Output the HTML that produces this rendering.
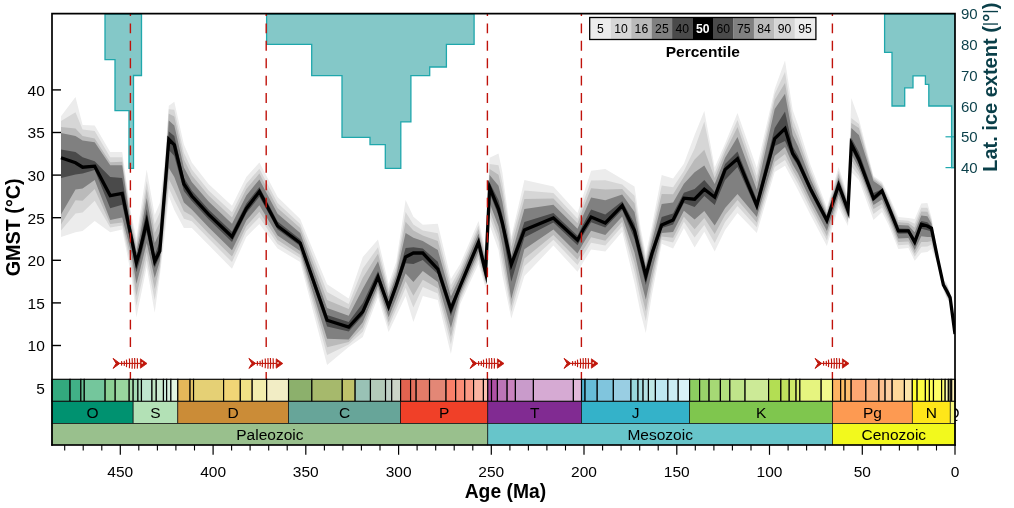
<!DOCTYPE html><html><head><meta charset="utf-8"><title>PhanDA GMST</title><style>html,body{margin:0;padding:0;background:#fff}svg{display:block}text{font-family:"Liberation Sans", sans-serif}</style></head><body>
<svg width="1014" height="508" viewBox="0 0 1014 508">
<rect width="1014" height="508" fill="#fff"/>
<defs><clipPath id="pa"><rect x="52" y="14" width="903" height="431"/></clipPath></defs>
<g clip-path="url(#pa)">
<polygon points="105.0,14.0 105.0,59.6 115.0,59.6 115.0,110.6 129.0,110.6 129.0,168.4 133.5,168.4 133.5,75.5 141.5,75.5 141.5,14.0" fill="#84c8c8" stroke="#1fa7ac" stroke-width="1.3" stroke-linejoin="miter"/>
<polygon points="266.6,14.0 266.6,44.4 311.7,44.4 311.7,75.7 342.0,75.7 342.0,137.3 370.0,137.3 370.0,144.6 385.3,144.6 385.3,168.3 400.8,168.3 400.8,121.9 410.9,121.9 410.9,75.7 429.7,75.7 429.7,67.0 446.4,67.0 446.4,44.4 474.1,44.4 474.1,14.0" fill="#84c8c8" stroke="#1fa7ac" stroke-width="1.3" stroke-linejoin="miter"/>
<polygon points="884.6,14.0 884.6,52.3 892.0,52.3 892.0,106.0 904.7,106.0 904.7,87.8 913.0,87.8 913.0,75.9 925.4,75.9 925.4,84.4 928.8,84.4 928.8,106.0 951.6,106.0 951.6,167.7 955.0,167.7 955.0,14.0" fill="#84c8c8" stroke="#1fa7ac" stroke-width="1.3" stroke-linejoin="miter"/>
</g>
<line x1="945.5" x2="955" y1="167.6" y2="167.6" stroke="#1fa9ae" stroke-width="1.2"/>
<line x1="945.5" x2="955" y1="136.8" y2="136.8" stroke="#1fa9ae" stroke-width="1.2"/>
<g clip-path="url(#pa)">
<polygon points="61.0,116.2 75.5,97.0 82.6,125.1 94.7,125.6 110.2,151.9 122.2,151.9 131.2,214.0 136.4,238.0 139.7,216.0 146.7,169.4 154.7,215.0 159.8,203.0 165.1,158.0 168.8,105.8 174.3,101.8 183.9,144.5 191.8,162.5 208.6,184.0 232.0,205.8 246.3,177.0 259.4,162.6 277.6,197.0 300.2,219.0 327.1,284.3 348.7,298.5 362.8,257.0 378.0,239.4 388.6,284.0 396.2,262.0 405.6,200.0 413.4,216.8 422.8,224.7 437.8,223.7 450.9,279.0 460.2,264.0 469.2,243.0 478.5,221.0 485.6,250.0 489.6,157.7 498.5,153.6 502.3,172.0 511.3,236.8 524.4,180.0 553.4,186.5 577.5,213.0 583.3,195.0 591.1,170.7 605.3,169.0 622.2,179.0 634.5,186.4 640.6,228.0 645.8,254.0 651.9,226.0 661.7,175.0 673.1,178.5 683.9,163.7 694.6,135.0 704.3,111.1 714.7,167.6 725.1,143.5 737.5,113.0 756.8,168.0 774.7,89.0 785.0,60.6 792.7,110.0 798.0,125.0 810.5,165.0 826.9,207.5 838.6,167.0 842.9,180.0 848.0,197.0 851.3,97.9 858.9,119.0 873.5,176.0 882.0,182.0 888.6,195.0 898.3,217.0 908.4,218.0 914.7,219.0 921.3,203.5 927.4,203.0 931.4,217.0 937.5,252.0 943.4,280.0 946.8,283.0 950.1,292.0 955.0,332.0 955.0,336.0 950.1,303.0 946.8,299.0 943.4,290.0 937.5,264.0 931.4,249.0 927.4,252.0 921.3,252.8 914.7,260.7 908.4,248.0 898.3,249.0 888.6,225.0 882.0,212.0 873.5,220.0 858.9,180.0 851.3,172.0 848.0,226.0 842.9,216.0 838.6,207.0 826.9,246.0 810.5,215.0 798.0,190.0 792.7,180.0 785.0,165.7 774.7,172.0 756.8,233.0 737.5,213.0 725.1,230.0 714.7,251.6 704.3,231.8 694.6,247.6 683.9,228.0 673.1,248.6 661.7,243.7 651.9,295.0 645.8,333.0 640.6,313.0 634.5,283.0 622.2,231.8 605.3,251.5 591.1,249.6 583.3,262.0 577.5,271.7 553.4,245.6 524.4,276.0 511.3,318.6 502.3,275.0 498.5,250.0 489.6,225.0 485.6,288.0 478.5,264.0 469.2,284.0 460.2,304.0 450.9,354.0 437.8,300.0 422.8,296.0 413.4,322.0 405.6,296.0 396.2,316.0 388.6,332.0 378.0,297.0 362.8,337.0 348.7,347.0 327.1,365.0 300.2,262.0 277.6,248.6 259.4,224.0 246.3,237.0 232.0,268.8 208.6,245.0 191.8,228.0 183.9,228.0 174.3,210.0 168.8,196.0 165.1,232.0 159.8,276.0 154.7,312.7 146.7,267.0 139.7,301.0 136.4,317.6 131.2,275.0 122.2,229.4 110.2,232.3 94.7,221.0 82.6,230.9 75.5,232.3 61.0,237.0" fill="#ececec"/>
<polygon points="61.0,121.1 75.5,112.3 82.6,129.5 94.7,131.0 110.2,157.3 122.2,157.3 131.2,218.6 136.4,243.0 139.7,223.1 146.7,181.0 154.7,224.0 159.8,212.6 165.1,163.6 168.8,109.2 174.3,109.7 183.9,152.8 191.8,169.5 208.6,190.4 232.0,212.3 246.3,183.7 259.4,168.7 277.6,203.1 300.2,224.0 327.1,292.0 348.7,304.0 362.8,268.5 378.0,247.3 388.6,288.7 396.2,266.9 405.6,212.0 413.4,224.4 422.8,230.6 437.8,233.2 450.9,285.3 460.2,268.6 469.2,247.5 478.5,225.5 485.6,254.7 489.6,163.9 498.5,165.2 502.3,182.6 511.3,240.3 524.4,190.5 553.4,193.1 577.5,218.7 583.3,202.2 591.1,180.4 605.3,180.3 622.2,184.6 634.5,195.7 640.6,233.7 645.8,258.6 651.9,231.8 661.7,185.5 673.1,187.2 683.9,170.9 694.6,148.5 704.3,121.5 714.7,173.0 725.1,147.5 737.5,120.0 756.8,175.9 774.7,94.0 785.0,72.0 792.7,119.1 798.0,132.7 810.5,170.0 826.9,210.2 838.6,170.8 842.9,183.4 848.0,199.8 851.3,118.0 858.9,124.0 873.5,177.5 882.0,183.8 888.6,197.5 898.3,219.9 908.4,220.7 914.7,223.8 921.3,207.8 927.4,207.8 931.4,219.4 937.5,253.3 943.4,281.1 946.8,284.7 950.1,293.1 955.0,332.4 955.0,335.6 950.1,301.8 946.8,297.3 943.4,288.9 937.5,262.7 931.4,244.6 927.4,246.5 921.3,246.8 914.7,256.8 908.4,244.4 898.3,245.2 888.6,221.2 882.0,207.5 873.5,214.0 858.9,176.0 851.3,166.0 848.0,222.7 842.9,211.9 838.6,202.4 826.9,240.6 810.5,209.5 798.0,184.0 792.7,174.4 785.0,160.0 774.7,167.0 756.8,227.2 737.5,206.0 725.1,222.0 714.7,243.0 704.3,225.0 694.6,237.4 683.9,221.7 673.1,242.6 661.7,239.8 651.9,286.3 645.8,321.0 640.6,300.8 634.5,272.0 622.2,226.3 605.3,245.5 591.1,242.8 583.3,255.2 577.5,265.1 553.4,239.8 524.4,266.3 511.3,312.0 502.3,264.0 498.5,241.4 489.6,217.1 485.6,284.7 478.5,259.4 469.2,279.9 460.2,300.2 450.9,344.6 437.8,293.5 422.8,287.0 413.4,307.5 405.6,287.8 396.2,309.6 388.6,326.7 378.0,292.8 362.8,331.7 348.7,344.5 327.1,355.0 300.2,258.0 277.6,243.9 259.4,217.2 246.3,231.1 232.0,262.1 208.6,238.6 191.8,221.3 183.9,218.8 174.3,200.0 168.8,188.0 165.1,222.8 159.8,271.0 154.7,300.0 146.7,260.0 139.7,291.1 136.4,305.8 131.2,267.4 122.2,225.4 110.2,227.4 94.7,200.8 82.6,212.6 75.5,213.6 61.0,230.4" fill="#d6d6d6"/>
<polygon points="61.0,127.0 75.5,128.5 82.6,135.9 94.7,138.4 110.2,162.3 122.2,161.8 131.2,223.3 136.4,247.0 139.7,230.2 146.7,189.0 154.7,233.0 159.8,222.2 165.1,169.2 168.8,113.7 174.3,116.6 183.9,159.5 191.8,175.2 208.6,195.6 232.0,217.6 246.3,189.0 259.4,173.6 277.6,208.0 300.2,228.1 327.1,300.0 348.7,309.0 362.8,277.7 378.0,253.7 388.6,292.6 396.2,270.9 405.6,221.7 413.4,230.6 422.8,235.5 437.8,240.9 450.9,290.4 460.2,272.4 469.2,251.2 478.5,229.1 485.6,258.6 489.6,168.9 498.5,174.7 502.3,191.3 511.3,247.0 524.4,199.0 553.4,198.5 577.5,223.3 583.3,208.1 591.1,188.3 605.3,189.5 622.2,189.1 634.5,203.2 640.6,238.3 645.8,262.3 651.9,236.4 661.7,194.0 673.1,194.3 683.9,176.8 694.6,159.4 704.3,149.8 714.7,178.0 725.1,152.0 737.5,127.0 756.8,182.2 774.7,100.0 785.0,83.0 792.7,126.5 798.0,138.9 810.5,174.1 826.9,212.4 838.6,173.8 842.9,186.2 848.0,202.1 851.3,123.0 858.9,128.0 873.5,179.0 882.0,185.3 888.6,199.5 898.3,222.2 908.4,222.9 914.7,227.7 921.3,211.4 927.4,211.7 931.4,221.3 937.5,254.3 943.4,281.9 946.8,286.0 950.1,294.1 955.0,332.8 955.0,335.2 950.1,300.9 946.8,296.0 943.4,288.1 937.5,261.7 931.4,241.1 927.4,242.1 921.3,241.9 914.7,253.6 908.4,241.5 898.3,242.1 888.6,218.1 882.0,203.9 873.5,209.0 858.9,172.0 851.3,160.0 848.0,220.1 842.9,208.6 838.6,198.6 826.9,236.2 810.5,205.1 798.0,179.2 792.7,169.9 785.0,154.0 774.7,162.0 756.8,222.6 737.5,200.0 725.1,215.0 714.7,234.0 704.3,218.0 694.6,229.2 683.9,216.7 673.1,237.7 661.7,236.6 651.9,279.2 645.8,311.3 640.6,291.0 634.5,263.1 622.2,221.8 605.3,240.7 591.1,237.2 583.3,249.7 577.5,259.7 553.4,235.1 524.4,258.5 511.3,306.0 502.3,255.1 498.5,234.4 489.6,210.7 485.6,282.1 478.5,255.8 469.2,276.6 460.2,297.2 450.9,336.9 437.8,288.2 422.8,279.7 413.4,295.8 405.6,281.2 396.2,304.4 388.6,322.3 378.0,289.4 362.8,327.3 348.7,342.0 327.1,347.3 300.2,254.8 277.6,240.0 259.4,211.7 246.3,226.2 232.0,256.6 208.6,233.4 191.8,215.8 183.9,211.3 174.3,190.0 168.8,179.0 165.1,213.6 159.8,266.0 154.7,289.0 146.7,252.0 139.7,281.2 136.4,296.0 131.2,259.9 122.2,222.5 110.2,224.0 94.7,189.0 82.6,200.8 75.5,200.3 61.0,224.4" fill="#bababa"/>
<polygon points="61.0,133.0 75.5,135.9 82.6,140.4 94.7,142.3 110.2,165.2 122.2,165.2 131.2,227.9 136.4,252.0 139.7,237.2 146.7,198.0 154.7,243.0 159.8,231.8 165.1,174.8 168.8,120.6 174.3,125.5 183.9,167.4 191.8,181.9 208.6,201.6 232.0,223.8 246.3,195.4 259.4,179.4 277.6,213.8 300.2,232.9 327.1,308.0 348.7,315.8 362.8,288.7 378.0,261.2 388.6,297.1 396.2,275.6 405.6,233.1 413.4,237.8 422.8,241.1 437.8,250.0 450.9,296.4 460.2,276.8 469.2,255.5 478.5,233.4 485.6,263.1 489.6,174.9 498.5,185.7 502.3,201.4 511.3,255.5 524.4,209.0 553.4,204.8 577.5,228.8 583.3,215.0 591.1,197.6 605.3,200.3 622.2,194.4 634.5,212.0 640.6,243.7 645.8,266.6 651.9,241.9 661.7,204.0 673.1,202.6 683.9,183.7 694.6,172.2 704.3,165.6 714.7,184.0 725.1,157.7 737.5,137.0 756.8,189.8 774.7,109.0 785.0,93.7 792.7,135.2 798.0,146.2 810.5,178.9 826.9,214.9 838.6,177.4 842.9,189.5 848.0,204.8 851.3,127.9 858.9,135.0 873.5,181.0 882.0,187.0 888.6,201.9 898.3,225.0 908.4,225.4 914.7,232.3 921.3,215.5 927.4,216.3 931.4,223.5 937.5,255.5 943.4,282.9 946.8,287.6 950.1,295.1 955.0,333.2 955.0,334.8 950.1,299.8 946.8,294.4 943.4,287.1 937.5,260.5 931.4,236.9 927.4,236.9 921.3,236.2 914.7,249.9 908.4,238.0 898.3,238.4 888.6,214.5 882.0,199.6 873.5,205.0 858.9,168.0 851.3,154.0 848.0,217.0 842.9,204.6 838.6,194.2 826.9,231.1 810.5,199.9 798.0,173.5 792.7,164.6 785.0,147.0 774.7,156.0 756.8,217.1 737.5,194.0 725.1,208.0 714.7,225.4 704.3,211.0 694.6,219.5 683.9,210.7 673.1,232.0 661.7,232.9 651.9,270.9 645.8,299.8 640.6,279.4 634.5,252.6 622.2,216.5 605.3,235.0 591.1,230.7 583.3,243.2 577.5,253.4 553.4,229.6 524.4,249.3 511.3,299.0 502.3,244.7 498.5,226.2 489.6,203.1 485.6,279.0 478.5,251.4 469.2,272.7 460.2,293.6 450.9,327.9 437.8,282.0 422.8,271.1 413.4,282.0 405.6,273.4 396.2,298.3 388.6,317.3 378.0,285.4 362.8,322.3 348.7,339.4 327.1,338.7 300.2,251.0 277.6,235.5 259.4,205.2 246.3,220.6 232.0,250.2 208.6,227.3 191.8,209.4 183.9,202.5 174.3,177.0 168.8,168.0 165.1,204.4 159.8,261.0 154.7,278.0 146.7,243.0 139.7,271.2 136.4,284.0 131.2,252.3 122.2,217.5 110.2,220.0 94.7,180.0 82.6,188.5 75.5,189.4 61.0,214.6" fill="#808080"/>
<polygon points="61.0,149.4 75.5,151.9 82.6,157.3 94.7,161.3 110.2,177.0 122.2,178.0 131.2,232.6 136.4,258.0 139.7,244.3 146.7,209.0 154.7,255.0 159.8,241.4 165.1,180.4 168.8,131.4 174.3,136.0 183.9,177.7 191.8,190.6 208.6,209.5 232.0,231.8 246.3,203.6 259.4,187.0 277.6,221.4 300.2,239.2 327.1,315.0 348.7,322.0 362.8,302.9 378.0,271.0 388.6,303.0 396.2,281.7 405.6,247.9 413.4,247.2 422.8,248.5 437.8,261.8 450.9,304.2 460.2,282.5 469.2,261.1 478.5,238.9 485.6,268.9 489.6,182.6 498.5,200.1 502.3,214.6 511.3,260.0 524.4,222.0 553.4,213.0 577.5,235.8 583.3,224.0 591.1,209.6 605.3,214.4 622.2,201.3 634.5,223.4 640.6,250.7 645.8,272.3 651.9,249.1 661.7,217.0 673.1,213.4 683.9,192.7 694.6,188.9 704.3,180.0 714.7,192.0 725.1,164.0 737.5,151.4 756.8,199.5 774.7,128.0 785.0,111.4 792.7,146.5 798.0,155.7 810.5,185.2 826.9,218.3 838.6,182.1 842.9,193.8 848.0,208.3 851.3,138.0 858.9,152.0 873.5,193.0 882.0,189.3 888.6,205.0 898.3,228.6 908.4,228.8 914.7,238.3 921.3,220.9 927.4,222.3 931.4,226.4 937.5,257.0 943.4,284.2 946.8,289.7 950.1,296.5 955.0,333.7 955.0,334.3 950.1,298.3 946.8,292.3 943.4,285.8 937.5,259.0 931.4,231.5 927.4,230.2 921.3,228.8 914.7,245.0 908.4,233.6 898.3,233.7 888.6,209.8 882.0,194.1 873.5,201.0 858.9,164.0 851.3,149.0 848.0,213.0 842.9,199.5 838.6,188.5 826.9,224.4 810.5,193.2 798.0,166.1 792.7,157.7 785.0,141.0 774.7,146.0 756.8,209.9 737.5,167.0 725.1,180.0 714.7,205.0 704.3,196.0 694.6,206.9 683.9,203.0 673.1,224.6 661.7,228.0 651.9,260.1 645.8,285.0 640.6,264.3 634.5,238.9 622.2,209.7 605.3,227.6 591.1,222.2 583.3,234.7 577.5,245.2 553.4,222.4 524.4,237.4 511.3,281.7 502.3,231.1 498.5,215.6 489.6,193.3 485.6,275.0 478.5,245.8 469.2,267.6 460.2,288.9 450.9,316.2 437.8,274.0 422.8,259.9 413.4,264.0 405.6,263.2 396.2,290.4 388.6,310.7 378.0,280.2 362.8,315.7 348.7,331.6 327.1,326.5 300.2,246.0 277.6,229.6 259.4,196.8 246.3,213.2 232.0,241.9 208.6,219.3 191.8,201.1 183.9,191.0 174.3,156.0 168.8,150.0 165.1,195.2 159.8,256.0 154.7,268.0 146.7,232.0 139.7,261.3 136.4,272.3 131.2,244.8 122.2,204.7 110.2,208.2 94.7,170.0 82.6,173.6 75.5,174.6 61.0,178.0" fill="#4a4a4a"/>
<polyline points="61.0,157.8 75.5,162.8 82.6,167.2 94.7,166.2 110.2,195.6 122.2,193.4 131.2,237.2 136.4,262.5 139.7,251.4 146.7,222.0 154.7,261.5 159.8,251.0 165.1,186.0 168.8,139.3 174.3,144.8 183.9,184.0 191.8,196.0 208.6,214.4 232.0,236.8 246.3,208.7 259.4,191.6 277.6,226.0 300.2,243.0 327.1,320.2 348.7,327.0 362.8,311.6 378.0,277.0 388.6,306.6 396.2,285.5 405.6,257.0 413.4,253.0 422.8,253.0 437.8,269.0 450.9,309.0 460.2,286.0 469.2,264.5 478.5,242.3 485.6,272.5 489.6,187.3 498.5,209.0 502.3,222.7 511.3,264.5 524.4,230.0 553.4,218.0 577.5,240.2 583.3,229.5 591.1,217.0 605.3,223.0 622.2,205.5 634.5,230.5 640.6,255.0 645.8,275.8 651.9,253.5 661.7,225.0 673.1,220.0 683.9,198.2 694.6,199.2 704.3,189.3 714.7,197.2 725.1,169.6 737.5,158.7 756.8,205.5 774.7,138.6 785.0,128.5 792.7,153.5 798.0,161.5 810.5,189.0 826.9,220.3 838.6,185.0 842.9,196.4 848.0,210.5 851.3,144.0 858.9,159.5 873.5,198.5 882.0,190.7 888.6,206.9 898.3,230.8 908.4,230.8 914.7,242.0 921.3,224.2 927.4,226.0 931.4,228.2 937.5,258.0 943.4,285.0 946.8,291.0 950.1,297.4 955.0,334.0" fill="none" stroke="#000" stroke-width="3.3" stroke-linejoin="miter" stroke-miterlimit="10"/>
</g>
<line x1="130.4" x2="130.4" y1="14" y2="16" stroke="#c0120a" stroke-width="1.4"/>
<line x1="130.4" x2="130.4" y1="23.4" y2="379" stroke="#c0120a" stroke-width="1.4" stroke-dasharray="9.9 7.53"/>
<line x1="266.2" x2="266.2" y1="14" y2="16" stroke="#c0120a" stroke-width="1.4"/>
<line x1="266.2" x2="266.2" y1="23.4" y2="379" stroke="#c0120a" stroke-width="1.4" stroke-dasharray="9.9 7.53"/>
<line x1="487.4" x2="487.4" y1="14" y2="16" stroke="#c0120a" stroke-width="1.4"/>
<line x1="487.4" x2="487.4" y1="23.4" y2="379" stroke="#c0120a" stroke-width="1.4" stroke-dasharray="9.9 7.53"/>
<line x1="581.4" x2="581.4" y1="14" y2="16" stroke="#c0120a" stroke-width="1.4"/>
<line x1="581.4" x2="581.4" y1="23.4" y2="379" stroke="#c0120a" stroke-width="1.4" stroke-dasharray="9.9 7.53"/>
<line x1="832.4" x2="832.4" y1="14" y2="16" stroke="#c0120a" stroke-width="1.4"/>
<line x1="832.4" x2="832.4" y1="23.4" y2="379" stroke="#c0120a" stroke-width="1.4" stroke-dasharray="9.9 7.53"/>
<g transform="translate(130.0,363.4)"><rect x="-19" y="-9.6" width="38" height="17.4" fill="#fff"/><path d="M-16.9,-5.0 L-10.2,0 L-16.9,5.0 L-13.9,0 Z" fill="#c0170c" stroke="#c0170c" stroke-width="1" stroke-linejoin="round"/><line x1="-10.5" x2="10.6" y1="0" y2="0" stroke="#c0170c" stroke-width="1.1"/><path d="M-8.50,-2.2 Q-8.00,0 -8.50,2.2" fill="none" stroke="#c0170c" stroke-width="1.15"/><path d="M-5.80,-2.5 Q-5.30,0 -5.80,2.5" fill="none" stroke="#c0170c" stroke-width="1.15"/><path d="M-3.55,-3.8 Q-3.05,0 -3.55,3.8" fill="none" stroke="#c0170c" stroke-width="1.15"/><path d="M-0.60,-4.9 Q-0.10,0 -0.60,4.9" fill="none" stroke="#c0170c" stroke-width="1.15"/><path d="M2.10,-5.3 Q2.60,0 2.10,5.3" fill="none" stroke="#c0170c" stroke-width="1.15"/><path d="M4.60,-5.4 Q5.10,0 4.60,5.4" fill="none" stroke="#c0170c" stroke-width="1.15"/><path d="M7.30,-5.2 Q7.80,0 7.30,5.2" fill="none" stroke="#c0170c" stroke-width="1.15"/><path d="M10.4,-4.6 L17.0,0.1 L10.4,4.8 Z" fill="#c0170c" stroke="#c0170c" stroke-width="0.8" stroke-linejoin="round"/><circle cx="12.2" cy="-0.5" r="0.85" fill="#fbe3d0"/></g>
<g transform="translate(265.8,363.4)"><rect x="-19" y="-9.6" width="38" height="17.4" fill="#fff"/><path d="M-16.9,-5.0 L-10.2,0 L-16.9,5.0 L-13.9,0 Z" fill="#c0170c" stroke="#c0170c" stroke-width="1" stroke-linejoin="round"/><line x1="-10.5" x2="10.6" y1="0" y2="0" stroke="#c0170c" stroke-width="1.1"/><path d="M-8.50,-2.2 Q-8.00,0 -8.50,2.2" fill="none" stroke="#c0170c" stroke-width="1.15"/><path d="M-5.80,-2.5 Q-5.30,0 -5.80,2.5" fill="none" stroke="#c0170c" stroke-width="1.15"/><path d="M-3.55,-3.8 Q-3.05,0 -3.55,3.8" fill="none" stroke="#c0170c" stroke-width="1.15"/><path d="M-0.60,-4.9 Q-0.10,0 -0.60,4.9" fill="none" stroke="#c0170c" stroke-width="1.15"/><path d="M2.10,-5.3 Q2.60,0 2.10,5.3" fill="none" stroke="#c0170c" stroke-width="1.15"/><path d="M4.60,-5.4 Q5.10,0 4.60,5.4" fill="none" stroke="#c0170c" stroke-width="1.15"/><path d="M7.30,-5.2 Q7.80,0 7.30,5.2" fill="none" stroke="#c0170c" stroke-width="1.15"/><path d="M10.4,-4.6 L17.0,0.1 L10.4,4.8 Z" fill="#c0170c" stroke="#c0170c" stroke-width="0.8" stroke-linejoin="round"/><circle cx="12.2" cy="-0.5" r="0.85" fill="#fbe3d0"/></g>
<g transform="translate(487.0,363.4)"><rect x="-19" y="-9.6" width="38" height="17.4" fill="#fff"/><path d="M-16.9,-5.0 L-10.2,0 L-16.9,5.0 L-13.9,0 Z" fill="#c0170c" stroke="#c0170c" stroke-width="1" stroke-linejoin="round"/><line x1="-10.5" x2="10.6" y1="0" y2="0" stroke="#c0170c" stroke-width="1.1"/><path d="M-8.50,-2.2 Q-8.00,0 -8.50,2.2" fill="none" stroke="#c0170c" stroke-width="1.15"/><path d="M-5.80,-2.5 Q-5.30,0 -5.80,2.5" fill="none" stroke="#c0170c" stroke-width="1.15"/><path d="M-3.55,-3.8 Q-3.05,0 -3.55,3.8" fill="none" stroke="#c0170c" stroke-width="1.15"/><path d="M-0.60,-4.9 Q-0.10,0 -0.60,4.9" fill="none" stroke="#c0170c" stroke-width="1.15"/><path d="M2.10,-5.3 Q2.60,0 2.10,5.3" fill="none" stroke="#c0170c" stroke-width="1.15"/><path d="M4.60,-5.4 Q5.10,0 4.60,5.4" fill="none" stroke="#c0170c" stroke-width="1.15"/><path d="M7.30,-5.2 Q7.80,0 7.30,5.2" fill="none" stroke="#c0170c" stroke-width="1.15"/><path d="M10.4,-4.6 L17.0,0.1 L10.4,4.8 Z" fill="#c0170c" stroke="#c0170c" stroke-width="0.8" stroke-linejoin="round"/><circle cx="12.2" cy="-0.5" r="0.85" fill="#fbe3d0"/></g>
<g transform="translate(581.0,363.4)"><rect x="-19" y="-9.6" width="38" height="17.4" fill="#fff"/><path d="M-16.9,-5.0 L-10.2,0 L-16.9,5.0 L-13.9,0 Z" fill="#c0170c" stroke="#c0170c" stroke-width="1" stroke-linejoin="round"/><line x1="-10.5" x2="10.6" y1="0" y2="0" stroke="#c0170c" stroke-width="1.1"/><path d="M-8.50,-2.2 Q-8.00,0 -8.50,2.2" fill="none" stroke="#c0170c" stroke-width="1.15"/><path d="M-5.80,-2.5 Q-5.30,0 -5.80,2.5" fill="none" stroke="#c0170c" stroke-width="1.15"/><path d="M-3.55,-3.8 Q-3.05,0 -3.55,3.8" fill="none" stroke="#c0170c" stroke-width="1.15"/><path d="M-0.60,-4.9 Q-0.10,0 -0.60,4.9" fill="none" stroke="#c0170c" stroke-width="1.15"/><path d="M2.10,-5.3 Q2.60,0 2.10,5.3" fill="none" stroke="#c0170c" stroke-width="1.15"/><path d="M4.60,-5.4 Q5.10,0 4.60,5.4" fill="none" stroke="#c0170c" stroke-width="1.15"/><path d="M7.30,-5.2 Q7.80,0 7.30,5.2" fill="none" stroke="#c0170c" stroke-width="1.15"/><path d="M10.4,-4.6 L17.0,0.1 L10.4,4.8 Z" fill="#c0170c" stroke="#c0170c" stroke-width="0.8" stroke-linejoin="round"/><circle cx="12.2" cy="-0.5" r="0.85" fill="#fbe3d0"/></g>
<g transform="translate(832.0,363.4)"><rect x="-19" y="-9.6" width="38" height="17.4" fill="#fff"/><path d="M-16.9,-5.0 L-10.2,0 L-16.9,5.0 L-13.9,0 Z" fill="#c0170c" stroke="#c0170c" stroke-width="1" stroke-linejoin="round"/><line x1="-10.5" x2="10.6" y1="0" y2="0" stroke="#c0170c" stroke-width="1.1"/><path d="M-8.50,-2.2 Q-8.00,0 -8.50,2.2" fill="none" stroke="#c0170c" stroke-width="1.15"/><path d="M-5.80,-2.5 Q-5.30,0 -5.80,2.5" fill="none" stroke="#c0170c" stroke-width="1.15"/><path d="M-3.55,-3.8 Q-3.05,0 -3.55,3.8" fill="none" stroke="#c0170c" stroke-width="1.15"/><path d="M-0.60,-4.9 Q-0.10,0 -0.60,4.9" fill="none" stroke="#c0170c" stroke-width="1.15"/><path d="M2.10,-5.3 Q2.60,0 2.10,5.3" fill="none" stroke="#c0170c" stroke-width="1.15"/><path d="M4.60,-5.4 Q5.10,0 4.60,5.4" fill="none" stroke="#c0170c" stroke-width="1.15"/><path d="M7.30,-5.2 Q7.80,0 7.30,5.2" fill="none" stroke="#c0170c" stroke-width="1.15"/><path d="M10.4,-4.6 L17.0,0.1 L10.4,4.8 Z" fill="#c0170c" stroke="#c0170c" stroke-width="0.8" stroke-linejoin="round"/><circle cx="12.2" cy="-0.5" r="0.85" fill="#fbe3d0"/></g>
<text x="953.6" y="418.0" font-size="15.5" text-anchor="middle" fill="#000">Q</text>
<rect x="51.94" y="379.3" width="18.12" height="22" fill="#33A97E" stroke="#000" stroke-width="1.15"/>
<rect x="70.07" y="379.3" width="10.80" height="22" fill="#41B087" stroke="#000" stroke-width="1.15"/>
<rect x="80.86" y="379.3" width="3.41" height="22" fill="#66C092" stroke="#000" stroke-width="1.15"/>
<rect x="84.28" y="379.3" width="20.85" height="22" fill="#74C69C" stroke="#000" stroke-width="1.15"/>
<rect x="105.13" y="379.3" width="10.07" height="22" fill="#8CD094" stroke="#000" stroke-width="1.15"/>
<rect x="115.20" y="379.3" width="13.99" height="22" fill="#99D69F" stroke="#000" stroke-width="1.15"/>
<rect x="129.19" y="379.3" width="3.97" height="22" fill="#A6DBAB" stroke="#000" stroke-width="1.15"/>
<rect x="133.16" y="379.3" width="4.79" height="22" fill="#A6DCB5" stroke="#000" stroke-width="1.15"/>
<rect x="137.94" y="379.3" width="3.52" height="22" fill="#B3E1C2" stroke="#000" stroke-width="1.15"/>
<rect x="141.47" y="379.3" width="10.50" height="22" fill="#BFE6CF" stroke="#000" stroke-width="1.15"/>
<rect x="151.96" y="379.3" width="4.29" height="22" fill="#BFE6C3" stroke="#000" stroke-width="1.15"/>
<rect x="156.25" y="379.3" width="7.20" height="22" fill="#CCEBD1" stroke="#000" stroke-width="1.15"/>
<rect x="163.45" y="379.3" width="3.21" height="22" fill="#CCECDD" stroke="#000" stroke-width="1.15"/>
<rect x="166.66" y="379.3" width="4.23" height="22" fill="#D9F0DF" stroke="#000" stroke-width="1.15"/>
<rect x="170.89" y="379.3" width="6.92" height="22" fill="#E6F5E1" stroke="#000" stroke-width="1.15"/>
<rect x="177.81" y="379.3" width="12.24" height="22" fill="#E5B75A" stroke="#000" stroke-width="1.15"/>
<rect x="190.05" y="379.3" width="3.51" height="22" fill="#E5C468" stroke="#000" stroke-width="1.15"/>
<rect x="193.55" y="379.3" width="30.07" height="22" fill="#E5D075" stroke="#000" stroke-width="1.15"/>
<rect x="223.62" y="379.3" width="16.69" height="22" fill="#F1D576" stroke="#000" stroke-width="1.15"/>
<rect x="240.32" y="379.3" width="11.87" height="22" fill="#F1E185" stroke="#000" stroke-width="1.15"/>
<rect x="252.19" y="379.3" width="14.47" height="22" fill="#F2EDAD" stroke="#000" stroke-width="1.15"/>
<rect x="266.66" y="379.3" width="21.89" height="22" fill="#F2EDC5" stroke="#000" stroke-width="1.15"/>
<rect x="288.55" y="379.3" width="23.32" height="22" fill="#8CB06C" stroke="#000" stroke-width="1.15"/>
<rect x="311.87" y="379.3" width="30.40" height="22" fill="#A6B96C" stroke="#000" stroke-width="1.15"/>
<rect x="342.27" y="379.3" width="12.87" height="22" fill="#BFC26B" stroke="#000" stroke-width="1.15"/>
<rect x="355.14" y="379.3" width="15.30" height="22" fill="#99C2B5" stroke="#000" stroke-width="1.15"/>
<rect x="370.45" y="379.3" width="15.08" height="22" fill="#B3CBB9" stroke="#000" stroke-width="1.15"/>
<rect x="385.53" y="379.3" width="6.20" height="22" fill="#BFD0C5" stroke="#000" stroke-width="1.15"/>
<rect x="391.72" y="379.3" width="8.89" height="22" fill="#CCD4C7" stroke="#000" stroke-width="1.15"/>
<rect x="400.61" y="379.3" width="9.96" height="22" fill="#E36350" stroke="#000" stroke-width="1.15"/>
<rect x="410.57" y="379.3" width="5.58" height="22" fill="#E36F5C" stroke="#000" stroke-width="1.15"/>
<rect x="416.15" y="379.3" width="13.37" height="22" fill="#E37B68" stroke="#000" stroke-width="1.15"/>
<rect x="429.53" y="379.3" width="16.51" height="22" fill="#E38776" stroke="#000" stroke-width="1.15"/>
<rect x="446.04" y="379.3" width="9.65" height="22" fill="#FB8069" stroke="#000" stroke-width="1.15"/>
<rect x="455.68" y="379.3" width="9.09" height="22" fill="#FB8D76" stroke="#000" stroke-width="1.15"/>
<rect x="464.77" y="379.3" width="8.81" height="22" fill="#FB9A85" stroke="#000" stroke-width="1.15"/>
<rect x="473.58" y="379.3" width="9.85" height="22" fill="#FCB4A2" stroke="#000" stroke-width="1.15"/>
<rect x="483.43" y="379.3" width="4.34" height="22" fill="#FCC0B2" stroke="#000" stroke-width="1.15"/>
<rect x="487.78" y="379.3" width="3.75" height="22" fill="#A4469F" stroke="#000" stroke-width="1.15"/>
<rect x="491.52" y="379.3" width="5.90" height="22" fill="#B051A5" stroke="#000" stroke-width="1.15"/>
<rect x="497.42" y="379.3" width="9.72" height="22" fill="#BC75B7" stroke="#000" stroke-width="1.15"/>
<rect x="507.14" y="379.3" width="8.27" height="22" fill="#C983BF" stroke="#000" stroke-width="1.15"/>
<rect x="515.41" y="379.3" width="17.99" height="22" fill="#C99BCB" stroke="#000" stroke-width="1.15"/>
<rect x="533.41" y="379.3" width="39.99" height="22" fill="#D6AAD3" stroke="#000" stroke-width="1.15"/>
<rect x="573.40" y="379.3" width="8.12" height="22" fill="#E3B9DB" stroke="#000" stroke-width="1.15"/>
<rect x="581.53" y="379.3" width="3.52" height="22" fill="#4EB3D3" stroke="#000" stroke-width="1.15"/>
<rect x="585.05" y="379.3" width="12.17" height="22" fill="#67BCD8" stroke="#000" stroke-width="1.15"/>
<rect x="597.22" y="379.3" width="16.14" height="22" fill="#80C5DD" stroke="#000" stroke-width="1.15"/>
<rect x="613.36" y="379.3" width="17.62" height="22" fill="#99CEE3" stroke="#000" stroke-width="1.15"/>
<rect x="630.98" y="379.3" width="7.05" height="22" fill="#9AD9DD" stroke="#000" stroke-width="1.15"/>
<rect x="638.03" y="379.3" width="5.06" height="22" fill="#A6DDE0" stroke="#000" stroke-width="1.15"/>
<rect x="643.09" y="379.3" width="5.34" height="22" fill="#B3E2E3" stroke="#000" stroke-width="1.15"/>
<rect x="648.44" y="379.3" width="6.97" height="22" fill="#BFE7E5" stroke="#000" stroke-width="1.15"/>
<rect x="655.41" y="379.3" width="12.52" height="22" fill="#BFE7F1" stroke="#000" stroke-width="1.15"/>
<rect x="667.93" y="379.3" width="10.28" height="22" fill="#CCECF4" stroke="#000" stroke-width="1.15"/>
<rect x="678.21" y="379.3" width="11.39" height="22" fill="#D9F1F7" stroke="#000" stroke-width="1.15"/>
<rect x="689.60" y="379.3" width="10.02" height="22" fill="#8CCD60" stroke="#000" stroke-width="1.15"/>
<rect x="699.62" y="379.3" width="9.46" height="22" fill="#99D36A" stroke="#000" stroke-width="1.15"/>
<rect x="709.08" y="379.3" width="11.32" height="22" fill="#A6D975" stroke="#000" stroke-width="1.15"/>
<rect x="720.39" y="379.3" width="9.46" height="22" fill="#B3DF7F" stroke="#000" stroke-width="1.15"/>
<rect x="729.85" y="379.3" width="15.21" height="22" fill="#BFE48A" stroke="#000" stroke-width="1.15"/>
<rect x="745.06" y="379.3" width="23.56" height="22" fill="#CCEA97" stroke="#000" stroke-width="1.15"/>
<rect x="768.62" y="379.3" width="12.24" height="22" fill="#B3DE53" stroke="#000" stroke-width="1.15"/>
<rect x="780.87" y="379.3" width="8.37" height="22" fill="#BFE35D" stroke="#000" stroke-width="1.15"/>
<rect x="789.23" y="379.3" width="6.84" height="22" fill="#CCE968" stroke="#000" stroke-width="1.15"/>
<rect x="796.08" y="379.3" width="3.80" height="22" fill="#D9EF74" stroke="#000" stroke-width="1.15"/>
<rect x="799.88" y="379.3" width="21.30" height="22" fill="#E6F47F" stroke="#000" stroke-width="1.15"/>
<rect x="821.17" y="379.3" width="11.37" height="22" fill="#F2FA8C" stroke="#000" stroke-width="1.15"/>
<rect x="832.55" y="379.3" width="8.12" height="22" fill="#FDB462" stroke="#000" stroke-width="1.15"/>
<rect x="840.67" y="379.3" width="4.49" height="22" fill="#FEBF65" stroke="#000" stroke-width="1.15"/>
<rect x="845.16" y="379.3" width="6.01" height="22" fill="#FDBF6F" stroke="#000" stroke-width="1.15"/>
<rect x="851.17" y="379.3" width="14.71" height="22" fill="#FCA773" stroke="#000" stroke-width="1.15"/>
<rect x="865.88" y="379.3" width="13.06" height="22" fill="#FCB482" stroke="#000" stroke-width="1.15"/>
<rect x="878.94" y="379.3" width="6.16" height="22" fill="#FDC091" stroke="#000" stroke-width="1.15"/>
<rect x="885.10" y="379.3" width="7.07" height="22" fill="#FDCDA1" stroke="#000" stroke-width="1.15"/>
<rect x="892.17" y="379.3" width="12.26" height="22" fill="#FED99A" stroke="#000" stroke-width="1.15"/>
<rect x="904.43" y="379.3" width="7.88" height="22" fill="#FEE6AA" stroke="#000" stroke-width="1.15"/>
<rect x="912.31" y="379.3" width="4.80" height="22" fill="#FFFF33" stroke="#000" stroke-width="1.15"/>
<rect x="917.12" y="379.3" width="8.27" height="22" fill="#FFFF41" stroke="#000" stroke-width="1.15"/>
<rect x="925.39" y="379.3" width="4.03" height="22" fill="#FFFF4D" stroke="#000" stroke-width="1.15"/>
<rect x="929.41" y="379.3" width="4.06" height="22" fill="#FFFF59" stroke="#000" stroke-width="1.15"/>
<rect x="933.48" y="379.3" width="8.12" height="22" fill="#FFFF66" stroke="#000" stroke-width="1.15"/>
<rect x="941.60" y="379.3" width="3.56" height="22" fill="#FFFF73" stroke="#000" stroke-width="1.15"/>
<rect x="945.16" y="379.3" width="3.21" height="22" fill="#FFFFB3" stroke="#000" stroke-width="1.15"/>
<rect x="948.37" y="379.3" width="1.89" height="22" fill="#FFFFBF" stroke="#000" stroke-width="1.15"/>
<rect x="950.26" y="379.3" width="1.45" height="22" fill="#FFEDB3" stroke="#000" stroke-width="1.15"/>
<rect x="951.71" y="379.3" width="3.34" height="22" fill="#FFF2BA" stroke="#000" stroke-width="1.15"/>
<rect x="51.94" y="401.6" width="81.21" height="21.8" fill="#009270" stroke="#111" stroke-width="0.7"/>
<text x="92.5" y="418.0" font-size="15.5" text-anchor="middle" fill="#000">O</text>
<rect x="133.16" y="401.6" width="44.65" height="21.8" fill="#B3E1B6" stroke="#111" stroke-width="0.7"/>
<text x="155.5" y="418.0" font-size="15.5" text-anchor="middle" fill="#000">S</text>
<rect x="177.81" y="401.6" width="110.74" height="21.8" fill="#CB8C37" stroke="#111" stroke-width="0.7"/>
<text x="233.2" y="418.0" font-size="15.5" text-anchor="middle" fill="#000">D</text>
<rect x="288.55" y="401.6" width="112.06" height="21.8" fill="#67A599" stroke="#111" stroke-width="0.7"/>
<text x="344.6" y="418.0" font-size="15.5" text-anchor="middle" fill="#000">C</text>
<rect x="400.61" y="401.6" width="87.17" height="21.8" fill="#F04028" stroke="#111" stroke-width="0.7"/>
<text x="444.2" y="418.0" font-size="15.5" text-anchor="middle" fill="#000">P</text>
<rect x="487.78" y="401.6" width="93.75" height="21.8" fill="#812B92" stroke="#111" stroke-width="0.7"/>
<text x="534.7" y="418.0" font-size="15.5" text-anchor="middle" fill="#000">T</text>
<rect x="581.53" y="401.6" width="108.07" height="21.8" fill="#34B2C9" stroke="#111" stroke-width="0.7"/>
<text x="635.6" y="418.0" font-size="15.5" text-anchor="middle" fill="#000">J</text>
<rect x="689.60" y="401.6" width="142.95" height="21.8" fill="#7FC64E" stroke="#111" stroke-width="0.7"/>
<text x="761.1" y="418.0" font-size="15.5" text-anchor="middle" fill="#000">K</text>
<rect x="832.55" y="401.6" width="79.76" height="21.8" fill="#FD9A52" stroke="#111" stroke-width="0.7"/>
<text x="872.4" y="418.0" font-size="15.5" text-anchor="middle" fill="#000">Pg</text>
<rect x="912.31" y="401.6" width="37.95" height="21.8" fill="#FFE619" stroke="#111" stroke-width="0.7"/>
<text x="931.3" y="418.0" font-size="15.5" text-anchor="middle" fill="#000">N</text>
<rect x="950.26" y="401.6" width="4.79" height="21.8" fill="#F9F97F" stroke="#111" stroke-width="0.7"/>
<rect x="51.94" y="423.6" width="435.83" height="21.4" fill="#99C08D" stroke="#111" stroke-width="0.7"/>
<text x="269.9" y="440.0" font-size="15.5" text-anchor="middle" fill="#000">Paleozoic</text>
<rect x="487.78" y="423.6" width="344.77" height="21.4" fill="#67C5CA" stroke="#111" stroke-width="0.7"/>
<text x="660.2" y="440.0" font-size="15.5" text-anchor="middle" fill="#000">Mesozoic</text>
<rect x="832.55" y="423.6" width="122.50" height="21.4" fill="#F2F91D" stroke="#111" stroke-width="0.7"/>
<text x="893.8" y="440.0" font-size="15.5" text-anchor="middle" fill="#000">Cenozoic</text>
<path d="M52,445.8 V13.6 H955 V445.8" fill="none" stroke="#000" stroke-width="1.7"/>
<line x1="51.2" x2="955.8" y1="445" y2="445" stroke="#000" stroke-width="1.7"/>
<text x="44.8" y="393.9" font-size="15.5" text-anchor="end" fill="#000">5</text>
<line x1="52" x2="61" y1="345.5" y2="345.5" stroke="#000" stroke-width="1.4"/>
<text x="44.8" y="351.3" font-size="15.5" text-anchor="end" fill="#000">10</text>
<line x1="52" x2="61" y1="302.9" y2="302.9" stroke="#000" stroke-width="1.4"/>
<text x="44.8" y="308.7" font-size="15.5" text-anchor="end" fill="#000">15</text>
<line x1="52" x2="61" y1="260.3" y2="260.3" stroke="#000" stroke-width="1.4"/>
<text x="44.8" y="266.1" font-size="15.5" text-anchor="end" fill="#000">20</text>
<line x1="52" x2="61" y1="217.7" y2="217.7" stroke="#000" stroke-width="1.4"/>
<text x="44.8" y="223.5" font-size="15.5" text-anchor="end" fill="#000">25</text>
<line x1="52" x2="61" y1="175.1" y2="175.1" stroke="#000" stroke-width="1.4"/>
<text x="44.8" y="180.9" font-size="15.5" text-anchor="end" fill="#000">30</text>
<line x1="52" x2="61" y1="132.5" y2="132.5" stroke="#000" stroke-width="1.4"/>
<text x="44.8" y="138.3" font-size="15.5" text-anchor="end" fill="#000">35</text>
<line x1="52" x2="61" y1="89.9" y2="89.9" stroke="#000" stroke-width="1.4"/>
<text x="44.8" y="95.7" font-size="15.5" text-anchor="end" fill="#000">40</text>
<line x1="955.0" x2="955.0" y1="445" y2="454.8" stroke="#000" stroke-width="1.2"/>
<text x="955.0" y="476.7" font-size="15.5" text-anchor="middle" fill="#000">0</text>
<line x1="936.5" x2="936.5" y1="445" y2="450.5" stroke="#000" stroke-width="1.1"/>
<line x1="917.9" x2="917.9" y1="445" y2="450.5" stroke="#000" stroke-width="1.1"/>
<line x1="899.4" x2="899.4" y1="445" y2="450.5" stroke="#000" stroke-width="1.1"/>
<line x1="880.8" x2="880.8" y1="445" y2="450.5" stroke="#000" stroke-width="1.1"/>
<line x1="862.3" x2="862.3" y1="445" y2="454.8" stroke="#000" stroke-width="1.2"/>
<text x="862.3" y="476.7" font-size="15.5" text-anchor="middle" fill="#000">50</text>
<line x1="843.8" x2="843.8" y1="445" y2="450.5" stroke="#000" stroke-width="1.1"/>
<line x1="825.2" x2="825.2" y1="445" y2="450.5" stroke="#000" stroke-width="1.1"/>
<line x1="806.6" x2="806.6" y1="445" y2="450.5" stroke="#000" stroke-width="1.1"/>
<line x1="788.1" x2="788.1" y1="445" y2="450.5" stroke="#000" stroke-width="1.1"/>
<line x1="769.5" x2="769.5" y1="445" y2="454.8" stroke="#000" stroke-width="1.2"/>
<text x="769.5" y="476.7" font-size="15.5" text-anchor="middle" fill="#000">100</text>
<line x1="751.0" x2="751.0" y1="445" y2="450.5" stroke="#000" stroke-width="1.1"/>
<line x1="732.4" x2="732.4" y1="445" y2="450.5" stroke="#000" stroke-width="1.1"/>
<line x1="713.9" x2="713.9" y1="445" y2="450.5" stroke="#000" stroke-width="1.1"/>
<line x1="695.3" x2="695.3" y1="445" y2="450.5" stroke="#000" stroke-width="1.1"/>
<line x1="676.8" x2="676.8" y1="445" y2="454.8" stroke="#000" stroke-width="1.2"/>
<text x="676.8" y="476.7" font-size="15.5" text-anchor="middle" fill="#000">150</text>
<line x1="658.2" x2="658.2" y1="445" y2="450.5" stroke="#000" stroke-width="1.1"/>
<line x1="639.7" x2="639.7" y1="445" y2="450.5" stroke="#000" stroke-width="1.1"/>
<line x1="621.1" x2="621.1" y1="445" y2="450.5" stroke="#000" stroke-width="1.1"/>
<line x1="602.6" x2="602.6" y1="445" y2="450.5" stroke="#000" stroke-width="1.1"/>
<line x1="584.0" x2="584.0" y1="445" y2="454.8" stroke="#000" stroke-width="1.2"/>
<text x="584.0" y="476.7" font-size="15.5" text-anchor="middle" fill="#000">200</text>
<line x1="565.5" x2="565.5" y1="445" y2="450.5" stroke="#000" stroke-width="1.1"/>
<line x1="546.9" x2="546.9" y1="445" y2="450.5" stroke="#000" stroke-width="1.1"/>
<line x1="528.4" x2="528.4" y1="445" y2="450.5" stroke="#000" stroke-width="1.1"/>
<line x1="509.9" x2="509.9" y1="445" y2="450.5" stroke="#000" stroke-width="1.1"/>
<line x1="491.3" x2="491.3" y1="445" y2="454.8" stroke="#000" stroke-width="1.2"/>
<text x="491.3" y="476.7" font-size="15.5" text-anchor="middle" fill="#000">250</text>
<line x1="472.8" x2="472.8" y1="445" y2="450.5" stroke="#000" stroke-width="1.1"/>
<line x1="454.2" x2="454.2" y1="445" y2="450.5" stroke="#000" stroke-width="1.1"/>
<line x1="435.7" x2="435.7" y1="445" y2="450.5" stroke="#000" stroke-width="1.1"/>
<line x1="417.1" x2="417.1" y1="445" y2="450.5" stroke="#000" stroke-width="1.1"/>
<line x1="398.6" x2="398.6" y1="445" y2="454.8" stroke="#000" stroke-width="1.2"/>
<text x="398.6" y="476.7" font-size="15.5" text-anchor="middle" fill="#000">300</text>
<line x1="380.0" x2="380.0" y1="445" y2="450.5" stroke="#000" stroke-width="1.1"/>
<line x1="361.4" x2="361.4" y1="445" y2="450.5" stroke="#000" stroke-width="1.1"/>
<line x1="342.9" x2="342.9" y1="445" y2="450.5" stroke="#000" stroke-width="1.1"/>
<line x1="324.4" x2="324.4" y1="445" y2="450.5" stroke="#000" stroke-width="1.1"/>
<line x1="305.8" x2="305.8" y1="445" y2="454.8" stroke="#000" stroke-width="1.2"/>
<text x="305.8" y="476.7" font-size="15.5" text-anchor="middle" fill="#000">350</text>
<line x1="287.2" x2="287.2" y1="445" y2="450.5" stroke="#000" stroke-width="1.1"/>
<line x1="268.7" x2="268.7" y1="445" y2="450.5" stroke="#000" stroke-width="1.1"/>
<line x1="250.1" x2="250.1" y1="445" y2="450.5" stroke="#000" stroke-width="1.1"/>
<line x1="231.6" x2="231.6" y1="445" y2="450.5" stroke="#000" stroke-width="1.1"/>
<line x1="213.1" x2="213.1" y1="445" y2="454.8" stroke="#000" stroke-width="1.2"/>
<text x="213.1" y="476.7" font-size="15.5" text-anchor="middle" fill="#000">400</text>
<line x1="194.5" x2="194.5" y1="445" y2="450.5" stroke="#000" stroke-width="1.1"/>
<line x1="175.9" x2="175.9" y1="445" y2="450.5" stroke="#000" stroke-width="1.1"/>
<line x1="157.4" x2="157.4" y1="445" y2="450.5" stroke="#000" stroke-width="1.1"/>
<line x1="138.8" x2="138.8" y1="445" y2="450.5" stroke="#000" stroke-width="1.1"/>
<line x1="120.3" x2="120.3" y1="445" y2="454.8" stroke="#000" stroke-width="1.2"/>
<text x="120.3" y="476.7" font-size="15.5" text-anchor="middle" fill="#000">450</text>
<line x1="101.8" x2="101.8" y1="445" y2="450.5" stroke="#000" stroke-width="1.1"/>
<line x1="83.2" x2="83.2" y1="445" y2="450.5" stroke="#000" stroke-width="1.1"/>
<line x1="64.7" x2="64.7" y1="445" y2="450.5" stroke="#000" stroke-width="1.1"/>
<text x="961" y="173.1" font-size="15" fill="#0a3f49">40</text>
<text x="961" y="142.3" font-size="15" fill="#0a3f49">50</text>
<text x="961" y="111.5" font-size="15" fill="#0a3f49">60</text>
<text x="961" y="80.7" font-size="15" fill="#0a3f49">70</text>
<text x="961" y="49.9" font-size="15" fill="#0a3f49">80</text>
<text x="961" y="19.1" font-size="15" fill="#0a3f49">90</text>
<text x="505.4" y="498.2" font-size="19.3" font-weight="bold" text-anchor="middle" fill="#000">Age (Ma)</text>
<text transform="translate(20.2,227.3) rotate(-90)" font-size="19.8" font-weight="bold" text-anchor="middle" fill="#000">GMST (°C)</text>
<text transform="translate(997.3,87.2) rotate(-90)" font-size="20" font-weight="bold" text-anchor="middle" fill="#0a3f49">Lat. ice extent (<tspan font-weight="normal" font-size="17" dy="-2.6">|</tspan><tspan dy="2.6">°</tspan><tspan font-weight="normal" font-size="17" dy="-2.6">|</tspan><tspan dy="2.6">)</tspan></text>
<rect x="590.30" y="17.8" width="20.55" height="21.4" fill="#ececec"/>
<text x="600.5" y="33" font-size="12.2" text-anchor="middle" fill="#000">5</text>
<rect x="610.75" y="17.8" width="20.55" height="21.4" fill="#d6d6d6"/>
<text x="621.0" y="33" font-size="12.2" text-anchor="middle" fill="#000">10</text>
<rect x="631.20" y="17.8" width="20.55" height="21.4" fill="#bababa"/>
<text x="641.4" y="33" font-size="12.2" text-anchor="middle" fill="#000">16</text>
<rect x="651.65" y="17.8" width="20.55" height="21.4" fill="#808080"/>
<text x="661.9" y="33" font-size="12.2" text-anchor="middle" fill="#000">25</text>
<rect x="672.10" y="17.8" width="20.55" height="21.4" fill="#4a4a4a"/>
<text x="682.3" y="33" font-size="12.2" text-anchor="middle" fill="#000">40</text>
<rect x="692.55" y="17.8" width="20.55" height="21.4" fill="#000"/>
<text x="702.8" y="33" font-size="12.2" font-weight="bold" text-anchor="middle" fill="#fff">50</text>
<rect x="713.00" y="17.8" width="20.55" height="21.4" fill="#4a4a4a"/>
<text x="723.2" y="33" font-size="12.2" text-anchor="middle" fill="#000">60</text>
<rect x="733.45" y="17.8" width="20.55" height="21.4" fill="#808080"/>
<text x="743.7" y="33" font-size="12.2" text-anchor="middle" fill="#000">75</text>
<rect x="753.90" y="17.8" width="20.55" height="21.4" fill="#bababa"/>
<text x="764.1" y="33" font-size="12.2" text-anchor="middle" fill="#000">84</text>
<rect x="774.35" y="17.8" width="20.55" height="21.4" fill="#d6d6d6"/>
<text x="784.6" y="33" font-size="12.2" text-anchor="middle" fill="#000">90</text>
<rect x="794.80" y="17.8" width="20.55" height="21.4" fill="#ececec"/>
<text x="805.0" y="33" font-size="12.2" text-anchor="middle" fill="#000">95</text>
<rect x="589.7" y="17.5" width="226.2" height="22" fill="none" stroke="#000" stroke-width="1.3"/>
<text x="702.8" y="56.9" font-size="15.5" font-weight="bold" text-anchor="middle" fill="#000">Percentile</text>
</svg></body></html>
